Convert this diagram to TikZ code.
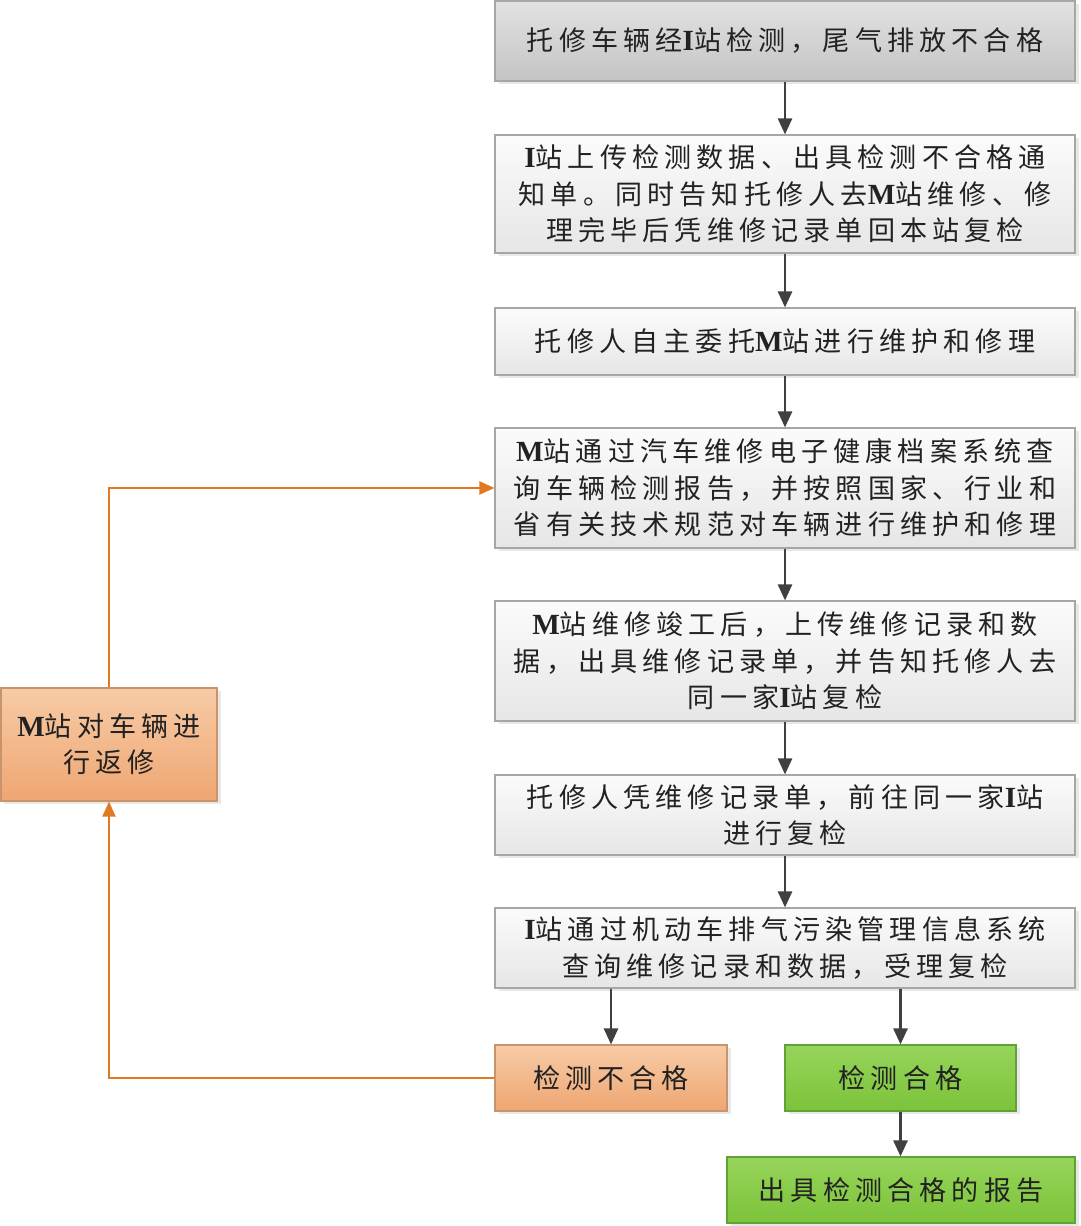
\documentclass[tikz,border=0pt]{standalone}
\usepackage{fontspec}
\setmainfont{Noto Sans CJK SC}[LetterSpace=19]
\newfontfamily\latfont{Liberation Serif}[Scale=1.08]
\newcommand\lat[1]{{\latfont\bfseries #1}}
\usetikzlibrary{arrows.meta,shadows}

\definecolor{textgray}{HTML}{222222}
\definecolor{boxedge}{HTML}{A6A6A6}
\definecolor{boxtop}{HTML}{FBFBFB}
\definecolor{boxbottom}{HTML}{E6E6E6}
\definecolor{headtop}{HTML}{E2E2E2}
\definecolor{headbottom}{HTML}{C4C4C4}
\definecolor{failtop}{HTML}{F7CBA6}
\definecolor{failbottom}{HTML}{EFA672}
\definecolor{failedge}{HTML}{C8946C}
\definecolor{passtop}{HTML}{96D45A}
\definecolor{passbottom}{HTML}{7CC33A}
\definecolor{passedge}{HTML}{62A038}
\definecolor{arrowgray}{HTML}{404040}
\definecolor{backorange}{HTML}{E07A22}

\begin{document}
\begin{tikzpicture}[
	flowbox/.style={draw=boxedge, line width=0.6pt, top color=boxtop, bottom color=boxbottom,
		text=textgray, align=center, inner sep=0pt, minimum width=11.6cm,
		font=\fontsize{15.4}{20.7}\selectfont,
		drop shadow={shadow xshift=0.07cm, shadow yshift=-0.07cm, opacity=0.18}},
	headbox/.style={flowbox, top color=headtop, bottom color=headbottom},
	failbox/.style={flowbox, draw=failedge, top color=failtop, bottom color=failbottom},
	passbox/.style={flowbox, draw=passedge, top color=passtop, bottom color=passbottom},
	flowarrow/.style={draw=arrowgray, line width=0.05cm, -{Triangle[length=0.32cm,width=0.28cm]}},
	backarrow/.style={draw=backorange, line width=0.04cm, -{Triangle[length=0.3cm,width=0.26cm]}}
	]
	
	% Rahmen
	\useasboundingbox (0,0) rectangle (21.6,24.52);
	
	% Hauptspalte
	\node[headbox, minimum height=1.6cm] (start) at (15.7,23.70)
	{托修车辆经\lat{I}站检测，尾气排放不合格};
	
	\node[flowbox, minimum height=2.36cm] (upload) at (15.7,20.64)
	{\lat{I}站上传检测数据、出具检测不合格通\\知单。同时告知托修人去\lat{M}站维修、修\\理完毕后凭维修记录单回本站复检};
	
	\node[flowbox, minimum height=1.34cm] (entrust) at (15.7,17.69)
	{托修人自主委托\lat{M}站进行维护和修理};
	
	\node[flowbox, minimum height=2.4cm] (repair) at (15.7,14.76)
	{\lat{M}站通过汽车维修电子健康档案系统查\\询车辆检测报告，并按照国家、行业和\\省有关技术规范对车辆进行维护和修理};
	
	\node[flowbox, minimum height=2.4cm] (finish) at (15.7,11.30)
	{\lat{M}站维修竣工后，上传维修记录和数\\据，出具维修记录单，并告知托修人去\\同一家\lat{I}站复检};
	
	\node[flowbox, minimum height=1.6cm] (recheck) at (15.7,8.22)
	{托修人凭维修记录单，前往同一家\lat{I}站\\进行复检};
	
	\node[flowbox, minimum height=1.6cm] (query) at (15.7,5.56)
	{\lat{I}站通过机动车排气污染管理信息系统\\查询维修记录和数据，受理复检};
	
	% Ergebnisse
	\node[failbox, minimum width=4.64cm, minimum height=1.32cm] (fail) at (12.22,2.96)
	{检测不合格};
	
	\node[passbox, minimum width=4.62cm, minimum height=1.32cm] (pass) at (18.01,2.96)
	{检测合格};
	
	\node[passbox, minimum width=6.96cm, minimum height=1.32cm] (report) at (18.02,0.72)
	{出具检测合格的报告};
	
	% Rueckweg links
	\node[failbox, minimum width=4.32cm, minimum height=2.26cm] (rework) at (2.18,9.63)
	{\lat{M}站对车辆进\\行返修};
	
	% Pfeile der Hauptspalte
	\draw[flowarrow] (start) -- (upload);
	\draw[flowarrow] (upload) -- (entrust);
	\draw[flowarrow] (entrust) -- (repair);
	\draw[flowarrow] (repair) -- (finish);
	\draw[flowarrow] (finish) -- (recheck);
	\draw[flowarrow] (recheck) -- (query);
	\draw[flowarrow] (query.south -| fail.north) -- (fail.north);
	\draw[flowarrow] (query.south -| pass.north) -- (pass.north);
	\draw[flowarrow] (pass) -- (pass.south |- report.north);
	
	% Rueckweg
	\draw[backarrow] (fail.west) -| (rework.south);
	\draw[backarrow] (rework.north) |- (repair.west);
	
\end{tikzpicture}
\end{document}
